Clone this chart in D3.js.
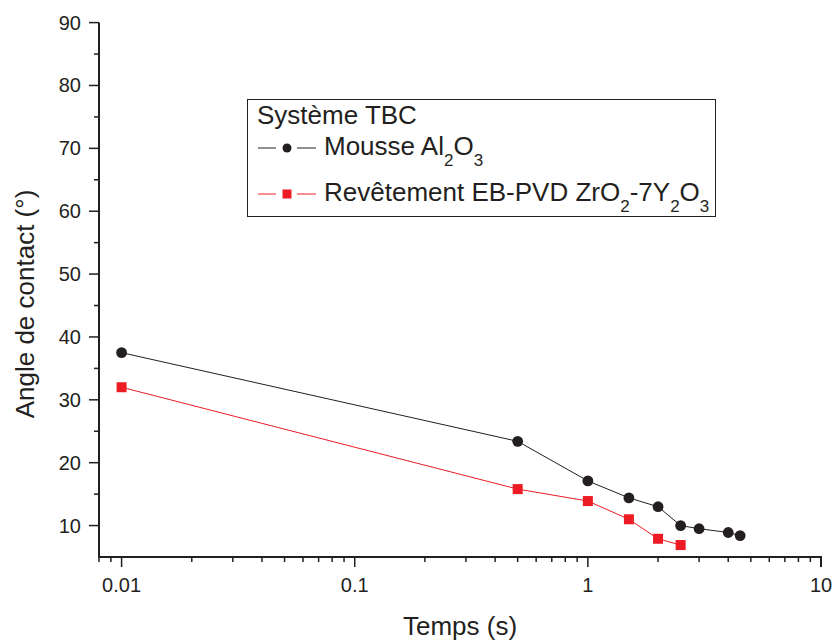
<!DOCTYPE html>
<html><head><meta charset="utf-8">
<script src="https://cdn.jsdelivr.net/npm/d3@7"></script>
<style>body{margin:0;background:#fff}svg{display:block;font-family:"Liberation Sans",Arial,sans-serif}</style>
</head><body><svg id="c" width="835" height="641"></svg>
<script>
const mousseX = [0.01, 0.5, 1, 1.5, 2, 2.5, 3, 4, 4.5];
const mousseY = [37.5, 23.4, 17.1, 14.4, 13.0, 10.0, 9.5, 8.9, 8.4];
const ebpvdX = [0.01, 0.5, 1, 1.5, 2, 2.5];
const ebpvdY = [32.0, 15.8, 13.9, 11.0, 7.9, 6.9];
const xMajorTicks = [0.01, 0.1, 1, 10];
const xTickLabels = ["0.01", "0.1", "1", "10"];
const yMajorTicks = [10, 20, 30, 40, 50, 60, 70, 80, 90];

const ink = "#231f20", red = "#ed1c24";
const svg = d3.select("#c");
const L = 99, R = 821, T = 22.6, B = 557;
const x = d3.scaleLog().domain([0.008, 10]).range([L, R]);
const y = d3.scaleLinear().domain([5, 90]).range([B, T]);

const xMinor = [];
[0.001,0.01,0.1,1].forEach(d=>{for(let k=2;k<=9;k++){const v=d*k; if(v>=0.008 && v<10) xMinor.push(v);}});
const xMinorF = xMinor.filter(v=>!xMajorTicks.some(m=>Math.abs(m-v)<1e-9));
const yMinor = d3.range(15, 90, 10);

const g = svg.append("g");
g.selectAll(".xm").data(xMinorF).join("line").attr("x1",d=>x(d)).attr("x2",d=>x(d)).attr("y1",B).attr("y2",B+5).attr("stroke",ink).attr("stroke-width",1.5);
g.selectAll(".xM").data(xMajorTicks).join("line").attr("x1",d=>x(d)).attr("x2",d=>x(d)).attr("y1",B).attr("y2",B+10).attr("stroke",ink).attr("stroke-width",1.5);
g.selectAll(".xl").data(xMajorTicks).join("text").attr("x",d=>x(d)).attr("y",B+35).attr("text-anchor","middle").attr("font-size",20).attr("fill",ink).text((d,i)=>xTickLabels[i]);
g.selectAll(".ym").data(yMinor).join("line").attr("x1",L-5).attr("x2",L).attr("y1",d=>y(d)).attr("y2",d=>y(d)).attr("stroke",ink).attr("stroke-width",1.5);
g.selectAll(".yM").data(yMajorTicks).join("line").attr("x1",L-10).attr("x2",L).attr("y1",d=>y(d)).attr("y2",d=>y(d)).attr("stroke",ink).attr("stroke-width",1.5);
g.selectAll(".yl").data(yMajorTicks).join("text").attr("x",L-18).attr("y",d=>y(d)+7).attr("text-anchor","end").attr("font-size",20).attr("fill",ink).text(d=>d);
g.append("path").attr("d",`M${L},${T}V${B}H${R}V${B+10}`).attr("fill","none").attr("stroke",ink).attr("stroke-width",2);

svg.append("text").attr("x",460).attr("y",635).attr("text-anchor","middle").attr("font-size",26).attr("fill",ink).text("Temps (s)");
svg.append("text").attr("transform","translate(34,304) rotate(-90)").attr("text-anchor","middle").attr("font-size",26).attr("fill",ink).text("Angle de contact (°)");

const line = d3.line().x(d=>x(d[0])).y(d=>y(d[1]));
const m = mousseX.map((v,i)=>[v,mousseY[i]]);
const e = ebpvdX.map((v,i)=>[v,ebpvdY[i]]);
svg.append("path").datum(m).attr("d",line).attr("fill","none").attr("stroke",ink).attr("stroke-width",1);
svg.append("path").datum(e).attr("d",line).attr("fill","none").attr("stroke",red).attr("stroke-width",1);
svg.selectAll(".pm").data(m).join("circle").attr("cx",d=>x(d[0])).attr("cy",d=>y(d[1])).attr("r",5.4).attr("fill",ink);
svg.selectAll(".pe").data(e).join("rect").attr("x",d=>x(d[0])-5).attr("y",d=>y(d[1])-5).attr("width",10).attr("height",10).attr("fill",red);

// legend
const lg = svg.append("g");
lg.append("rect").attr("x",247.5).attr("y",99.5).attr("width",468).attr("height",117).attr("fill","#fff").attr("stroke",ink).attr("stroke-width",1);
lg.append("text").attr("x",257).attr("y",124).attr("font-size",26).attr("fill",ink).text("Système TBC");
function entry(yy,color,shape,parts){
  lg.append("line").attr("x1",258).attr("x2",276).attr("y1",yy).attr("y2",yy).attr("stroke",color).attr("stroke-width",1);
  lg.append("line").attr("x1",297).attr("x2",316).attr("y1",yy).attr("y2",yy).attr("stroke",color).attr("stroke-width",1);
  if(shape==="c") lg.append("circle").attr("cx",287).attr("cy",yy).attr("r",4.5).attr("fill",color);
  else lg.append("rect").attr("x",282.5).attr("y",yy-4.5).attr("width",9).attr("height",9).attr("fill",color);
  const t = lg.append("text").attr("x",324).attr("y",yy+7).attr("font-size",26).attr("fill",ink);
  parts.forEach(p=>{
    if(p[1]) t.append("tspan").attr("font-size",17).attr("dy",11).text(p[0]);
    else t.append("tspan").attr("dy",p[2]||0).text(p[0]);
  });
}
entry(148,ink,"c",[["Mousse Al"],["2",1],["O",0,-11],["3",1]]);
entry(194,red,"s",[["Revêtement EB-PVD ZrO"],["2",1],["-7Y",0,-11],["2",1],["O",0,-11],["3",1]]);
</script></body></html>
